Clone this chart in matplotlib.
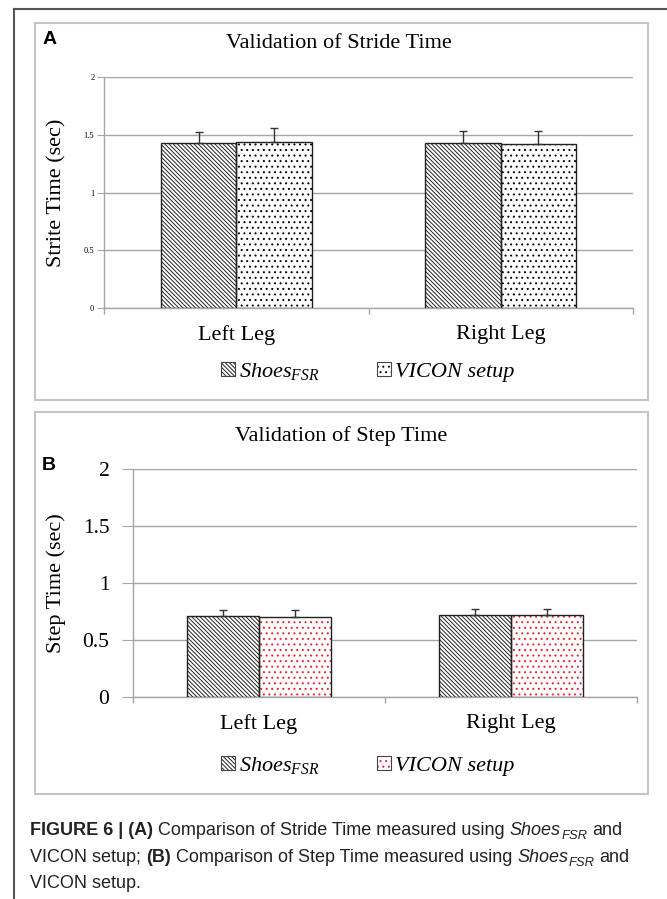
import matplotlib
matplotlib.use('Agg')
import matplotlib.pyplot as plt
from matplotlib.patches import Rectangle, Patch
from matplotlib.lines import Line2D
import numpy as np

# values
categories = ['Left Leg', 'Right Leg']
series_labels = [r'$\mathit{Shoes}_{\mathit{FSR}}$', 'VICON setup']

stride_shoes = [1.425, 1.43]
stride_shoes_err = [0.10, 0.10]
stride_vicon = [1.44, 1.42]
stride_vicon_err = [0.12, 0.11]

step_shoes = [0.71, 0.72]
step_shoes_err = [0.05, 0.05]
step_vicon = [0.70, 0.72]
step_vicon_err = [0.06, 0.055]

W, H = 667, 899

plt.rcParams['mathtext.fontset'] = 'custom'
plt.rcParams['mathtext.rm'] = 'Liberation Serif'
plt.rcParams['mathtext.it'] = 'Liberation Serif:italic'
plt.rcParams['mathtext.bf'] = 'Liberation Serif:bold'
plt.rcParams['hatch.linewidth'] = 0.7

SERIF = 'Liberation Serif'
SANS = 'Liberation Sans'
GRID = '#a6a6a6'
DIAG = '\\' * 8


def fig_box(x0, y0, x1, y1):
    # pixel box (top-left origin) -> figure fraction rect
    return [x0 / W, (H - y1) / H, (x1 - x0) / W, (y1 - y0) / H]


def draw_panel(ax, shoes, shoes_err, vicon, vicon_err, dot_color, tick_size, ylabel, ylabel_x):
    x = np.arange(len(categories)) + 0.5
    w = 0.285
    # hatch layers
    ax.bar(x - w / 2, shoes, w, color='white', edgecolor='#222222', lw=0, hatch=DIAG, zorder=2)
    ax.bar(x + w / 2, vicon, w, color='white', edgecolor=dot_color, lw=0, hatch='...', zorder=2)
    # outlines + error bars
    ax.bar(x - w / 2, shoes, w, fill=False, edgecolor='#222222', lw=1.0, zorder=3,
           yerr=[np.zeros(len(shoes)), shoes_err], capsize=3,
           error_kw=dict(ecolor='#333333', elinewidth=1, capthick=1))
    ax.bar(x + w / 2, vicon, w, fill=False, edgecolor='#222222', lw=1.0, zorder=3,
           yerr=[np.zeros(len(vicon)), vicon_err], capsize=3,
           error_kw=dict(ecolor='#333333', elinewidth=1, capthick=1))

    ax.set_xlim(0, 2)
    ax.set_ylim(0, 2)
    ax.set_yticks([0, 0.5, 1, 1.5, 2])
    ax.set_yticklabels(['0', '0.5', '1', '1.5', '2'], fontfamily=SERIF, fontsize=tick_size)
    ax.set_xticks([0, 1, 2])
    ax.set_xticklabels([])
    ax.set_xticks(x, minor=True)
    ax.set_xticklabels(categories, minor=True, fontfamily=SERIF, fontsize=16)
    ax.tick_params(axis='x', which='minor', length=0, pad=12)
    ax.tick_params(axis='x', which='major', length=4, color=GRID, width=1)
    ax.grid(axis='y', color=GRID, lw=1, zorder=0)
    ax.set_axisbelow(True)
    for s in ['top', 'right']:
        ax.spines[s].set_visible(False)
    for s in ['left', 'bottom']:
        ax.spines[s].set_color(GRID)
        ax.spines[s].set_linewidth(1)
    ax.set_facecolor('none')
    ax.set_ylabel(ylabel, fontfamily=SERIF, fontsize=16)
    ax.yaxis.set_label_coords(ylabel_x, 0.5)


fig = plt.figure(figsize=(W / 100, H / 100), dpi=100)

# outer frame (top + left)
fig.add_artist(Line2D([14 / W, 1], [1 - 9 / H, 1 - 9 / H], transform=fig.transFigure, color='#555555', lw=1.5))
fig.add_artist(Line2D([14 / W, 14 / W], [0, 1 - 9 / H], transform=fig.transFigure, color='#555555', lw=1.5))

# panel boxes
for y0, y1 in [(23, 400), (412, 794)]:
    r = fig_box(35, y0, 648, y1)
    fig.add_artist(Rectangle((r[0], r[1]), r[2], r[3], transform=fig.transFigure,
                             fill=False, edgecolor='#c4c4c4', lw=1.5))

# panel A
axA = fig.add_axes(fig_box(104, 77, 633, 308))
draw_panel(axA, stride_shoes, stride_shoes_err, stride_vicon, stride_vicon_err,
           'black', 6, 'Strite Time (sec)', -0.070)
axA.tick_params(axis='y', length=5, color=GRID, pad=2)
fig.text(339 / W, 1 - 44 / H, 'Validation of Stride Time', ha='center', va='center',
         fontfamily=SERIF, fontsize=16)
fig.text(43 / W, 1 - 39 / H, 'A', ha='left', va='center', fontfamily=SANS,
         fontweight='bold', fontsize=14)

# panel B
axB = fig.add_axes(fig_box(133, 469, 637, 697))
draw_panel(axB, step_shoes, step_shoes_err, step_vicon, step_vicon_err,
           '#e8202a', 15.5, 'Step Time (sec)', -0.133)
axB.tick_params(axis='y', length=8, color=GRID, pad=9)
fig.text(341 / W, 1 - 436 / H, 'Validation of Step Time', ha='center', va='center',
         fontfamily=SERIF, fontsize=16)
fig.text(42 / W, 1 - 465 / H, 'B', ha='left', va='center', fontfamily=SANS,
         fontweight='bold', fontsize=14)

# legends
for dot_color, ly in [('black', 371), ('#e8202a', 765)]:
    h_shoes = (Patch(facecolor='white', edgecolor='#222222', lw=0, hatch=DIAG),
               Patch(fill=False, edgecolor='#444444', lw=0.8))
    h_vicon = (Patch(facecolor='white', edgecolor=dot_color, lw=0, hatch='...'),
               Patch(fill=False, edgecolor='#444444', lw=0.8))
    fig.legend([h_shoes, h_vicon], series_labels, loc='center',
               bbox_to_anchor=(368 / W, 1 - ly / H), ncol=2, frameon=False,
               prop=dict(family=SERIF, style='italic', size=16),
               handlelength=0.6, handleheight=0.6, handletextpad=0.2, columnspacing=2.6)

# caption
renderer = fig.canvas.get_renderer()
cap_size = 13
space = 0.278 * cap_size * 100 / 72
regular = dict(fontfamily=SANS, fontsize=cap_size, color='#222222')
bold = dict(regular, fontweight='bold')
italic = dict(regular, style='italic')
sub = dict(italic, fontsize=cap_size * 0.72)

caption = [
    (835, [('FIGURE 6 | (A)', bold, 0, True),
           ('Comparison of Stride Time measured using', regular, 0, True),
           ('Shoes', italic, 0, False),
           ('FSR', sub, -4, True),
           ('and', regular, 0, False)]),
    (862, [('VICON setup;', regular, 0, True),
           ('(B)', bold, 0, True),
           ('Comparison of Step Time measured using', regular, 0, True),
           ('Shoes', italic, 0, False),
           ('FSR', sub, -4, True),
           ('and', regular, 0, False)]),
    (888, [('VICON setup.', regular, 0, False)]),
]
for base_y, pieces in caption:
    xp = 30
    for txt, props, dy, gap in pieces:
        t = fig.text(xp / W, (H - base_y + dy) / H, txt, ha='left', va='baseline', **props)
        xp += t.get_window_extent(renderer).width + (space if gap else 0.5)

fig.savefig('out.png', dpi=100)
